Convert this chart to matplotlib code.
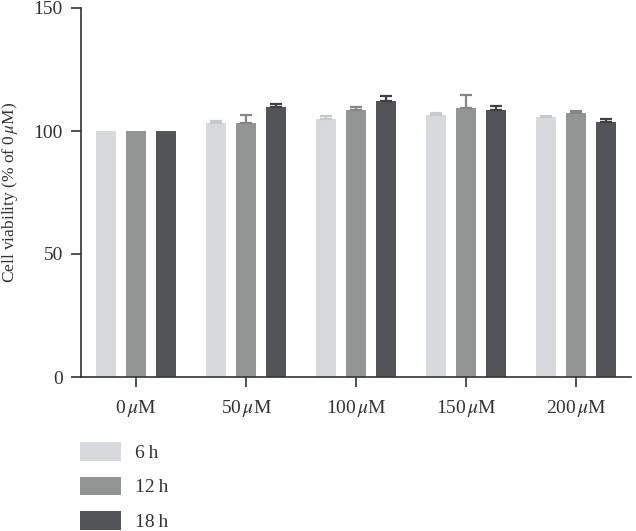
import matplotlib
matplotlib.use("Agg")
import matplotlib.pyplot as plt
import numpy as np

plt.rcParams['font.family'] = ['Liberation Serif', 'DejaVu Serif']
plt.rcParams['mathtext.fontset'] = 'stix'

categories = [r"0$\,\mu$M", r"50$\,\mu$M", r"100$\,\mu$M", r"150$\,\mu$M", r"200$\,\mu$M"]
series = ["6\u2009h", "12\u2009h", "18\u2009h"]
v6 = [100.0, 103.4, 104.9, 106.4, 105.7]
v12 = [100.0, 103.1, 108.5, 109.5, 107.4]
v18 = [100.0, 109.8, 112.0, 108.4, 103.7]
e6 = [0.0, 0.6, 1.2, 1.0, 0.4]
e12 = [0.0, 3.6, 1.4, 5.0, 0.6]
e18 = [0.0, 1.3, 2.2, 1.9, 1.2]
colors = ["#d8d9da", "#939494", "#535455"]
ecolors = ["#c8c9ca", "#858686", "#3e3f40"]

fig = plt.figure(figsize=(6.36, 5.31), dpi=100)
ax = fig.add_axes([81/636, 1-377/531, 550/636, 369/531])

x = np.arange(len(categories))
w = 0.178
off = 0.273
for i, (vals, errs) in enumerate([(v6, e6), (v12, e12), (v18, e18)]):
    pos = x + (i - 1) * off
    ax.bar(pos, vals, width=w, color=colors[i], label=series[i], zorder=2)
    vals = np.array(vals)
    errs = np.array(errs)
    m = errs > 0
    ax.errorbar(pos[m], vals[m], yerr=[np.zeros(m.sum()), errs[m]], fmt='none',
                ecolor=ecolors[i], elinewidth=1.6, capsize=4.5, capthick=1.6, zorder=3)

ax.set_xlim(-0.5, 4.5)
ax.set_ylim(0, 150)
ax.set_yticks([0, 50, 100, 150])
ax.set_xticks(x)
ax.set_xticklabels(categories)
ax.set_ylabel(r"Cell viability (% of 0$\,\mu$M)", fontsize=12.5, color="#333333", labelpad=10)
ax.tick_params(axis='both', labelsize=14, colors="#333333", length=7, width=1.2, direction='out')
ax.tick_params(axis='x', pad=8)
ax.tick_params(axis='y', pad=6)
for s in ['top', 'right']:
    ax.spines[s].set_visible(False)
for s in ['left', 'bottom']:
    ax.spines[s].set_linewidth(1.2)
    ax.spines[s].set_color("#333333")

handles, labels = ax.get_legend_handles_labels()
fig.legend(handles, labels, loc='upper left', bbox_to_anchor=(80/636, 1-442/531),
           frameon=False, fontsize=14, handlelength=2.1, handleheight=1.1,
           labelspacing=0.75, handletextpad=0.75, borderpad=0, borderaxespad=0,
           labelcolor="#333333")

fig.savefig("out.png", dpi=100)
